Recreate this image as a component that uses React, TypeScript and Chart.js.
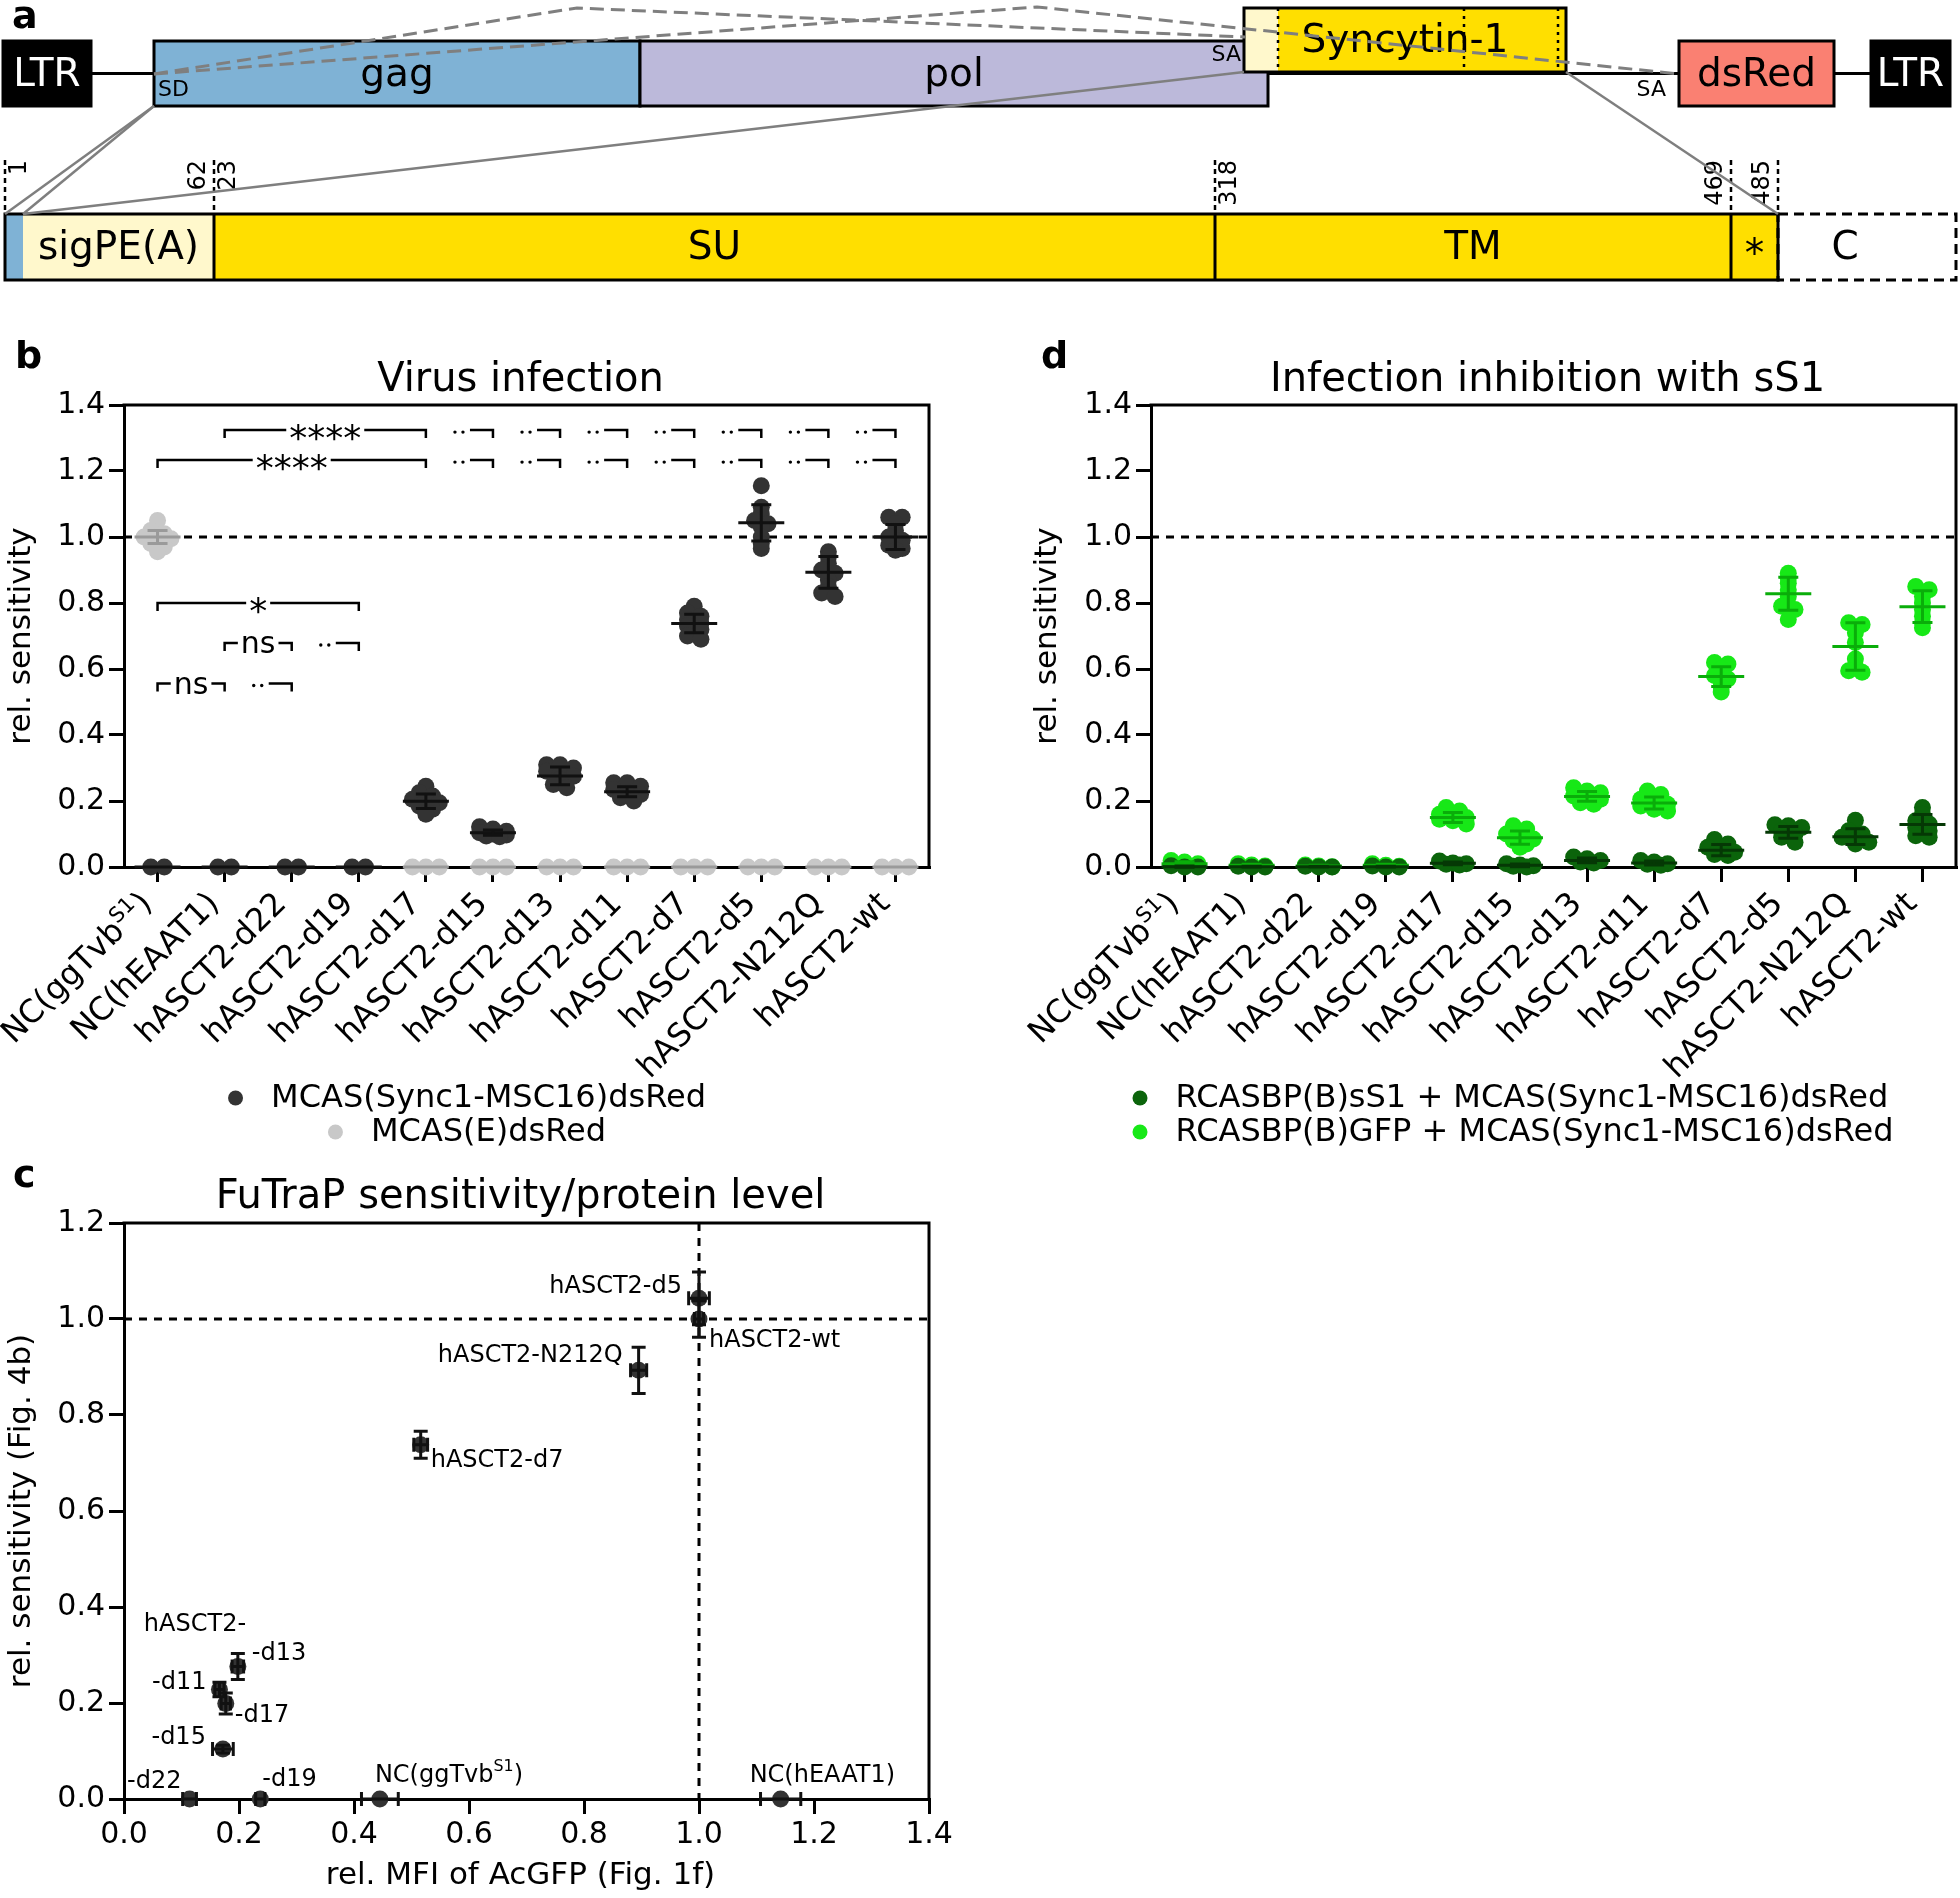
import React, { useEffect, useRef } from "react";
import { Chart, registerables } from "chart.js";

Chart.register(...registerables);

const FONT = "'DejaVu Sans', 'Liberation Sans', sans-serif";
const f = (size: number, bold = false) => `${bold ? "bold " : ""}${size}px ${FONT}`;
Chart.defaults.font.family = FONT;

/* ---------------- Panel a : construct schematic (diagram units) ---------------- */
const GENOME_LABELS = ["LTR", "gag", "pol", "dsRed", "LTR"];
const GENOME_FROM = [3, 154, 640, 1679, 1871];
const GENOME_TO = [91, 640, 1268, 1834, 1950];
const SYNCYTIN_LABEL = "Syncytin-1";
const SYNCYTIN_SPAN = [1244, 1566];
const SYNCYTIN_MARKS = [1278, 1464, 1558];
const SD_AT = 154;
const SA_AT = [1245, 1679];
const PROTEIN_LABELS = ["", "sigPE(A)", "SU", "TM", "*", "C"];
const PROTEIN_BOUNDS = [5, 23, 214, 1215, 1731, 1778, 1956];
const AA_LABELS = ["1", "62", "23", "318", "469", "485"];
const AA_AT = [5, 214, 214, 1215, 1731, 1778];
const SPLICE_PATHS = [
  [[154, 74], [577, 8], [1245, 37]],
  [[154, 74], [1037, 7], [1679, 74]],
];
const ZOOM_LINES = [
  [[154, 106], [5, 214]],
  [[154, 106], [23, 214]],
  [[1244, 72], [23, 214]],
  [[1566, 72], [1778, 214]],
];

/* ---------------- Panels b / d : categories & values ---------------- */
const CATEGORIES = [
  "NC(ggTvb^{S1})", "NC(hEAAT1)", "hASCT2-d22", "hASCT2-d19", "hASCT2-d17", "hASCT2-d15",
  "hASCT2-d13", "hASCT2-d11", "hASCT2-d7", "hASCT2-d5", "hASCT2-N212Q", "hASCT2-wt",
];
const SENS_TICKS = [0, 0.2, 0.4, 0.6, 0.8, 1.0, 1.2, 1.4];

const B_SYNC_REPS = [
  [0, 0], [0, 0], [0, 0], [0, 0],
  [0.245, 0.225, 0.215, 0.205, 0.2, 0.195, 0.185, 0.175, 0.16],
  [0.122, 0.115, 0.108, 0.104, 0.1, 0.097, 0.094, 0.092],
  [0.31, 0.31, 0.3, 0.29, 0.28, 0.275, 0.265, 0.25, 0.24],
  [0.255, 0.255, 0.245, 0.235, 0.225, 0.22, 0.21, 0.2],
  [0.79, 0.77, 0.76, 0.75, 0.74, 0.73, 0.72, 0.7, 0.69],
  [1.155, 1.09, 1.07, 1.05, 1.04, 1.03, 1.0, 0.98, 0.965],
  [0.955, 0.94, 0.92, 0.9, 0.89, 0.87, 0.85, 0.83, 0.82],
  [1.06, 1.06, 1.04, 1.02, 1.0, 0.99, 0.975, 0.965, 0.96],
];
const B_SYNC_MEAN = [0, 0, 0, 0, 0.199, 0.104, 0.276, 0.228, 0.738, 1.043, 0.893, 1.0];
const B_SYNC_SD = [0, 0, 0, 0, 0.022, 0.008, 0.027, 0.015, 0.028, 0.055, 0.048, 0.038];

const B_E_REPS = [
  [1.05, 1.02, 1.01, 1.0, 1.0, 0.995, 0.98, 0.97, 0.955], [], [], [],
  [0, 0, 0], [0, 0, 0], [0, 0, 0], [0, 0, 0], [0, 0, 0], [0, 0, 0], [0, 0, 0], [0, 0, 0],
];
const B_E_MEAN = [1.0, null, null, null, 0, 0, 0, 0, 0, 0, 0, 0];
const B_E_SD = [0.02, null, null, null, 0, 0, 0, 0, 0, 0, 0, 0];

const SIG_BRACKETS = [
  { from: 1, to: 4, y: 1.324, label: "****" },
  { from: 0, to: 4, y: 1.233, label: "****" },
  { from: 0, to: 3, y: 0.8, label: "*" },
  { from: 1, to: 2, y: 0.679, label: "ns" },
  { from: 0, to: 1, y: 0.556, label: "ns" },
];
const SIG_STUBS = [
  { y: 1.324, at: [5, 6, 7, 8, 9, 10, 11] },
  { y: 1.233, at: [5, 6, 7, 8, 9, 10, 11] },
  { y: 0.679, at: [3] },
  { y: 0.556, at: [2] },
];

const D_SS1_REPS = [
  [0.004, 0.0, 0.0], [0.002, 0.0, 0.0], [0.002, 0.0, 0.0], [0.003, 0.0, 0.0],
  [0.018, 0.012, 0.01, 0.008, 0.006],
  [0.01, 0.006, 0.004, 0.002, 0.0],
  [0.03, 0.025, 0.02, 0.015, 0.012],
  [0.02, 0.015, 0.01, 0.008, 0.005],
  [0.083, 0.07, 0.06, 0.05, 0.045, 0.038, 0.035],
  [0.128, 0.125, 0.12, 0.11, 0.1, 0.09, 0.075],
  [0.142, 0.11, 0.1, 0.09, 0.08, 0.075, 0.07],
  [0.18, 0.16, 0.14, 0.13, 0.12, 0.11, 0.095, 0.09],
];
const D_SS1_MEAN = [0.001, 0.001, 0.001, 0.001, 0.011, 0.005, 0.02, 0.012, 0.051, 0.105, 0.092, 0.129];
const D_SS1_SD = [0.002, 0.001, 0.001, 0.001, 0.004, 0.004, 0.007, 0.006, 0.017, 0.018, 0.024, 0.03];

const D_GFP_REPS = [
  [0.02, 0.015, 0.01, 0.005], [0.01, 0.006, 0.003], [0.006, 0.003, 0.001], [0.01, 0.005, 0.002],
  [0.18, 0.17, 0.16, 0.155, 0.15, 0.145, 0.14, 0.13],
  [0.125, 0.115, 0.1, 0.09, 0.085, 0.08, 0.07, 0.06],
  [0.24, 0.23, 0.225, 0.215, 0.21, 0.205, 0.195, 0.19],
  [0.23, 0.22, 0.205, 0.195, 0.19, 0.185, 0.175, 0.17],
  [0.62, 0.615, 0.6, 0.58, 0.57, 0.56, 0.545, 0.53],
  [0.89, 0.875, 0.86, 0.84, 0.82, 0.79, 0.78, 0.75],
  [0.74, 0.735, 0.71, 0.68, 0.63, 0.61, 0.595, 0.59],
  [0.85, 0.84, 0.82, 0.8, 0.78, 0.76, 0.74, 0.725],
];
const D_GFP_MEAN = [0.01, 0.005, 0.003, 0.005, 0.15, 0.089, 0.214, 0.194, 0.577, 0.828, 0.668, 0.789];
const D_GFP_SD = [0.006, 0.003, 0.002, 0.003, 0.015, 0.02, 0.015, 0.018, 0.03, 0.05, 0.072, 0.048];

/* ---------------- Panel c : sensitivity vs protein level ---------------- */
const MFI_TICKS = [0, 0.2, 0.4, 0.6, 0.8, 1.0, 1.2, 1.4];
const C_SENS_TICKS = [0, 0.2, 0.4, 0.6, 0.8, 1.0, 1.2];
const C_MFI = [0.445, 1.142, 0.114, 0.237, 0.177, 0.172, 0.198, 0.166, 0.516, 1.0, 0.895, 1.0];
const C_MFI_SD = [0.032, 0.035, 0.012, 0.008, 0.008, 0.018, 0.01, 0.008, 0.012, 0.018, 0.014, 0.008];
const C_LABELS = [
  "NC(ggTvb^{S1})", "NC(hEAAT1)", "-d22", "-d19", "-d17", "-d15",
  "-d13", "-d11", "hASCT2-d7", "hASCT2-d5", "hASCT2-N212Q", "hASCT2-wt",
];
const C_GROUP_LABEL = "hASCT2-";

/* label placement (pixel offsets from the point) */
const C_LABEL_POS: [number, number, string][] = [
  [-5, -23, "left"], [-31, -23, "left"], [-8, -17, "right"], [2, -19, "left"],
  [9, 12, "left"], [-17, -11, "right"], [14, -13, "left"], [-13, -7, "right"],
  [10, 16, "left"], [-17, -12, "right"], [-16, -15, "right"], [10, 22, "left"],
];

/* ---------------- helpers ---------------- */
function parseRich(s: string) {
  const parts: { t: string; sup: boolean }[] = [];
  const re = /\^\{([^}]*)\}/g;
  let last = 0;
  let m: RegExpExecArray | null;
  while ((m = re.exec(s))) {
    if (m.index > last) parts.push({ t: s.slice(last, m.index), sup: false });
    parts.push({ t: m[1], sup: true });
    last = m.index + m[0].length;
  }
  if (last < s.length) parts.push({ t: s.slice(last), sup: false });
  return parts;
}

function drawRich(ctx: any, s: string, x: number, y: number, align: string, size: number) {
  const parts = parseRich(s);
  const widths = parts.map((p) => {
    ctx.font = f(p.sup ? size * 0.66 : size);
    return ctx.measureText(p.t).width;
  });
  const total = widths.reduce((a, b) => a + b, 0);
  let cx = align === "right" ? x - total : align === "center" ? x - total / 2 : x;
  ctx.textAlign = "left";
  parts.forEach((p, i) => {
    ctx.font = f(p.sup ? size * 0.66 : size);
    ctx.fillText(p.t, cx, p.sup ? y - size * 0.38 : y);
    cx += widths[i];
  });
}

function swarmOffsets(values: number[], bin = 0.015, step = 0.2, maxRow = 3): number[] {
  const order = values.map((_, i) => i).sort((a, b) => values[b] - values[a]);
  const out = new Array(values.length).fill(0);
  let row: number[] = [];
  const flush = () => {
    row.forEach((k, j) => {
      out[k] = (j - (row.length - 1) / 2) * step;
    });
    row = [];
  };
  for (const k of order) {
    if (row.length && (row.length >= maxRow || values[row[0]] - values[k] > bin)) flush();
    row.push(k);
  }
  flush();
  return out;
}

const DOT_R = 8.5;
const axisGrid = { display: true, drawOnChartArea: false, drawTicks: true, tickLength: 15, lineWidth: 3, color: "#000" };
const axisBorder = { display: true, width: 3, color: "#000" };
const baseOptions = {
  animation: false,
  responsive: false,
  devicePixelRatio: 1,
  events: [],
  plugins: { legend: { display: false }, tooltip: { enabled: false }, title: { display: false } },
};

function drawFrame(ctx: any, a: any) {
  ctx.save();
  ctx.strokeStyle = "#000";
  ctx.lineWidth = 3;
  ctx.beginPath();
  ctx.moveTo(a.left - 1.5, a.top);
  ctx.lineTo(a.right, a.top);
  ctx.lineTo(a.right, a.bottom + 1.5);
  ctx.stroke();
  ctx.restore();
}

function drawYTitle(ctx: any, text: string, x: number, yc: number, size: number) {
  ctx.save();
  ctx.translate(x, yc);
  ctx.rotate(-Math.PI / 2);
  ctx.fillStyle = "#000";
  ctx.font = f(size);
  ctx.textAlign = "center";
  ctx.textBaseline = "alphabetic";
  ctx.fillText(text, 0, 0);
  ctx.restore();
}

/* ---------------- Panel a chart ---------------- */
const GENOME_COLORS = ["#000000", "#7fb2d5", "#bcb9da", "#fa8072", "#000000"];
const PROTEIN_COLORS = ["#7fb2d5", "#fff8cc", "#ffdf00", "#ffdf00", "#ffdf00", "#ffffff"];
const AA_SIDE = [1, -1, 1, 1, -1, -1];
const GENOME_ROW = [41, 106];
const SYN_ROW = [8, 72];
const PROT_ROW = [214, 280];
const AA_TOP = 160;

const panelAPlugin = {
  id: "panelA",
  afterDraw(chart: any) {
    const ctx = chart.ctx;
    const X = (v: number) => chart.scales.x.getPixelForValue(v);
    const Y = (v: number) => chart.scales.y.getPixelForValue(v);
    ctx.save();
    ctx.fillStyle = "#000";
    ctx.font = f(38, true);
    ctx.textAlign = "left";
    ctx.textBaseline = "alphabetic";
    ctx.fillText("a", 12, 28);

    const gy0 = Y(GENOME_ROW[0]);
    const gy1 = Y(GENOME_ROW[1]);
    const mid = (gy0 + gy1) / 2;
    ctx.strokeStyle = "#000";
    ctx.lineWidth = 3;
    ctx.beginPath();
    ctx.moveTo(X(GENOME_TO[0]), mid);
    ctx.lineTo(X(GENOME_FROM[GENOME_FROM.length - 1]), mid);
    ctx.stroke();

    GENOME_LABELS.forEach((lab, i) => {
      const x0 = X(GENOME_FROM[i]);
      const x1 = X(GENOME_TO[i]);
      ctx.fillStyle = GENOME_COLORS[i];
      ctx.fillRect(x0, gy0, x1 - x0, gy1 - gy0);
      ctx.strokeStyle = "#000";
      ctx.lineWidth = 3;
      ctx.strokeRect(x0, gy0, x1 - x0, gy1 - gy0);
      ctx.fillStyle = lab === "LTR" ? "#fff" : "#000";
      ctx.font = f(39);
      ctx.textAlign = "center";
      ctx.textBaseline = "middle";
      ctx.fillText(lab, (x0 + x1) / 2, mid + 2);
    });

    // Syncytin-1 box
    const sx0 = X(SYNCYTIN_SPAN[0]);
    const sx1 = X(SYNCYTIN_SPAN[1]);
    const sm = X(SYNCYTIN_MARKS[0]);
    const sy0 = Y(SYN_ROW[0]);
    const sy1 = Y(SYN_ROW[1]);
    ctx.fillStyle = "#fff8cc";
    ctx.fillRect(sx0, sy0, sm - sx0, sy1 - sy0);
    ctx.fillStyle = "#ffdf00";
    ctx.fillRect(sm, sy0, sx1 - sm, sy1 - sy0);
    ctx.strokeStyle = "#000";
    ctx.lineWidth = 3;
    ctx.strokeRect(sx0, sy0, sx1 - sx0, sy1 - sy0);
    ctx.setLineDash([3, 5]);
    ctx.lineWidth = 2.5;
    SYNCYTIN_MARKS.forEach((m) => {
      ctx.beginPath();
      ctx.moveTo(X(m), sy0);
      ctx.lineTo(X(m), sy1);
      ctx.stroke();
    });
    ctx.setLineDash([]);
    ctx.fillStyle = "#000";
    ctx.font = f(39);
    ctx.textAlign = "center";
    ctx.textBaseline = "middle";
    ctx.fillText(SYNCYTIN_LABEL, (sx0 + sx1) / 2, (sy0 + sy1) / 2 + 2);

    // splice site labels
    ctx.font = f(22);
    ctx.textAlign = "left";
    ctx.fillText("SD", X(SD_AT) + 4, Y(90));
    ctx.textAlign = "right";
    ctx.fillText("SA", X(SA_AT[0]) - 4, Y(55));
    ctx.fillText("SA", X(SA_AT[1]) - 13, Y(90));

    // protein bar
    const py0 = Y(PROT_ROW[0]);
    const py1 = Y(PROT_ROW[1]);
    for (let i = 0; i < PROTEIN_LABELS.length; i++) {
      const x0 = X(PROTEIN_BOUNDS[i]);
      const x1 = X(PROTEIN_BOUNDS[i + 1]);
      ctx.fillStyle = PROTEIN_COLORS[i];
      ctx.fillRect(x0, py0, x1 - x0, py1 - py0);
    }
    const last = PROTEIN_BOUNDS.length - 2;
    ctx.strokeStyle = "#000";
    ctx.lineWidth = 3;
    ctx.strokeRect(X(PROTEIN_BOUNDS[0]), py0, X(PROTEIN_BOUNDS[last]) - X(PROTEIN_BOUNDS[0]), py1 - py0);
    for (let i = 2; i < last; i++) {
      ctx.beginPath();
      ctx.moveTo(X(PROTEIN_BOUNDS[i]), py0);
      ctx.lineTo(X(PROTEIN_BOUNDS[i]), py1);
      ctx.stroke();
    }
    ctx.setLineDash([10, 6]);
    ctx.strokeRect(X(PROTEIN_BOUNDS[last]), py0, X(PROTEIN_BOUNDS[last + 1]) - X(PROTEIN_BOUNDS[last]), py1 - py0);
    ctx.setLineDash([]);
    ctx.fillStyle = "#000";
    ctx.font = f(39);
    ctx.textAlign = "center";
    ctx.textBaseline = "middle";
    PROTEIN_LABELS.forEach((lab, i) => {
      if (!lab) return;
      const cx = (X(PROTEIN_BOUNDS[i]) + X(PROTEIN_BOUNDS[i + 1])) / 2;
      ctx.fillText(lab, lab === "C" ? cx - 22 : cx, (py0 + py1) / 2 + (lab === "*" ? 9 : 2));
    });

    // amino-acid position markers
    ctx.lineWidth = 2.5;
    ctx.setLineDash([5, 4]);
    Array.from(new Set(AA_AT)).forEach((p) => {
      ctx.beginPath();
      ctx.moveTo(X(p), Y(AA_TOP));
      ctx.lineTo(X(p), py0);
      ctx.stroke();
    });
    ctx.setLineDash([]);
    ctx.font = f(24);
    AA_LABELS.forEach((lab, i) => {
      ctx.save();
      ctx.translate(X(AA_AT[i]) + AA_SIDE[i] * 3, Y(AA_TOP));
      ctx.rotate(-Math.PI / 2);
      ctx.textAlign = "right";
      ctx.textBaseline = AA_SIDE[i] > 0 ? "top" : "bottom";
      ctx.fillText(lab, 0, 0);
      ctx.restore();
    });

    // splice paths
    ctx.strokeStyle = "#7f7f7f";
    ctx.lineWidth = 3;
    ctx.setLineDash([14, 7]);
    SPLICE_PATHS.forEach((path) => {
      ctx.beginPath();
      path.forEach(([x, y], k) => (k ? ctx.lineTo(X(x), Y(y)) : ctx.moveTo(X(x), Y(y))));
      ctx.stroke();
    });
    ctx.setLineDash([]);
    ctx.lineWidth = 2.5;
    ZOOM_LINES.forEach((path) => {
      ctx.beginPath();
      path.forEach(([x, y], k) => (k ? ctx.lineTo(X(x), Y(y)) : ctx.moveTo(X(x), Y(y))));
      ctx.stroke();
    });
    ctx.restore();
  },
};

const panelAConfig = () => ({
  type: "scatter",
  data: { datasets: [{ data: PROTEIN_BOUNDS.map((b) => ({ x: b, y: PROT_ROW[0] })), pointRadius: 0 }] },
  options: {
    ...baseOptions,
    layout: { padding: 0, autoPadding: false },
    scales: {
      x: { type: "linear", display: false, min: 0, max: 1960 },
      y: { type: "linear", display: false, min: 0, max: 300, reverse: true },
    },
  },
  plugins: [panelAPlugin],
});

/* ---------------- Panels b / d charts ---------------- */
type Series = { name: string; reps: number[][]; mean: (number | null)[]; sd: (number | null)[]; dot: string; bar: string };

function stripPlugin(spec: any) {
  return {
    id: "strip",
    beforeDatasetsDraw(chart: any) {
      const { ctx, chartArea: a } = chart;
      drawFrame(ctx, a);
      const y1 = chart.scales.y.getPixelForValue(1);
      ctx.save();
      ctx.strokeStyle = "#000";
      ctx.lineWidth = 3;
      ctx.setLineDash([8, 7]);
      ctx.beginPath();
      ctx.moveTo(a.left, y1);
      ctx.lineTo(a.right, y1);
      ctx.stroke();
      ctx.restore();
    },
    afterDatasetsDraw(chart: any) {
      const ctx = chart.ctx;
      const X = (v: number) => chart.scales.x.getPixelForValue(v);
      const Y = (v: number) => chart.scales.y.getPixelForValue(v);
      ctx.save();
      ctx.lineWidth = 3;
      (spec.series as Series[]).slice().reverse().forEach((s) => {
        ctx.strokeStyle = s.bar;
        s.mean.forEach((m, i) => {
          if (m == null) return;
          const x = X(i);
          const y = Y(m);
          ctx.beginPath();
          ctx.moveTo(x - 23, y);
          ctx.lineTo(x + 23, y);
          ctx.stroke();
          const sd = s.sd[i] || 0;
          if (sd > 0) {
            const yt = Y(m + sd);
            const yb = Y(m - sd);
            ctx.beginPath();
            ctx.moveTo(x, yt);
            ctx.lineTo(x, yb);
            ctx.moveTo(x - 10, yt);
            ctx.lineTo(x + 10, yt);
            ctx.moveTo(x - 10, yb);
            ctx.lineTo(x + 10, yb);
            ctx.stroke();
          }
        });
      });
      ctx.restore();
    },
    afterDraw(chart: any) {
      const { ctx, chartArea: a } = chart;
      const X = (v: number) => chart.scales.x.getPixelForValue(v);
      const Y = (v: number) => chart.scales.y.getPixelForValue(v);
      ctx.save();
      ctx.fillStyle = "#000";
      ctx.strokeStyle = "#000";
      // letter & title
      ctx.font = f(38, true);
      ctx.textAlign = "left";
      ctx.textBaseline = "alphabetic";
      ctx.fillText(spec.letter, spec.letterX, 48);
      ctx.font = f(40);
      ctx.textAlign = "center";
      ctx.fillText(spec.title, (a.left + a.right) / 2 - 6, 71);
      drawYTitle(ctx, "rel. sensitivity", spec.yTitleX, (a.top + a.bottom) / 2, 31);
      // rotated category labels
      ctx.textBaseline = "alphabetic";
      CATEGORIES.forEach((lab, i) => {
        ctx.save();
        ctx.translate(X(i) - 4, a.bottom + 15 + 23);
        ctx.rotate(-Math.PI / 4);
        drawRich(ctx, lab, 0, 0, "right", 32);
        ctx.restore();
      });
      // legend
      ctx.textBaseline = "middle";
      (spec.series as Series[]).forEach((s, r) => {
        const y = 778 + r * 34;
        ctx.font = f(32);
        const tw = ctx.measureText(s.name).width;
        const dx = spec.legendCenter != null ? spec.legendCenter - (15 + 28 + tw) / 2 + 7.5 : spec.legendX;
        ctx.fillStyle = s.dot;
        ctx.beginPath();
        ctx.arc(dx, y, 7.5, 0, Math.PI * 2);
        ctx.fill();
        ctx.fillStyle = "#000";
        ctx.textAlign = "left";
        ctx.fillText(s.name, dx + 35.5, y + 1);
      });
      // significance annotations
      ctx.lineWidth = 2.5;
      (spec.brackets || []).forEach((b: any) => {
        const x1 = X(b.from);
        const x2 = X(b.to);
        const y = Y(b.y);
        const star = b.label.includes("*");
        const size = star ? 36 : 30;
        ctx.font = f(size);
        const tw = ctx.measureText(b.label).width;
        const mx = (x1 + x2) / 2;
        ctx.beginPath();
        ctx.moveTo(x1, y + 8);
        ctx.lineTo(x1, y);
        ctx.lineTo(mx - tw / 2 - 3, y);
        ctx.moveTo(mx + tw / 2 + 3, y);
        ctx.lineTo(x2, y);
        ctx.lineTo(x2, y + 8);
        ctx.stroke();
        ctx.textAlign = "center";
        ctx.textBaseline = "alphabetic";
        ctx.fillText(b.label, mx, star ? y + 20 : y + 10);
      });
      (spec.stubs || []).forEach((st: any) => {
        const y = Y(st.y);
        st.at.forEach((k: number) => {
          const x = X(k);
          ctx.beginPath();
          ctx.moveTo(x - 23, y);
          ctx.lineTo(x, y);
          ctx.lineTo(x, y + 8);
          ctx.stroke();
          [38, 30].forEach((d) => {
            ctx.beginPath();
            ctx.arc(x - d, y + 2, 1.7, 0, Math.PI * 2);
            ctx.fill();
          });
        });
      });
      ctx.restore();
    },
  };
}

function stripConfig(spec: any) {
  const datasets = (spec.series as Series[]).map((s) => ({
    label: s.name,
    data: s.reps.flatMap((vals, i) => {
      const off = swarmOffsets(vals);
      return vals.map((v, j) => ({ x: i + off[j], y: v }));
    }),
    backgroundColor: s.dot,
    borderColor: s.dot,
    pointBackgroundColor: s.dot,
    pointRadius: DOT_R,
    pointHoverRadius: DOT_R,
    pointBorderWidth: 0,
    borderWidth: 0,
    showLine: false,
    clip: false,
  }));
  return {
    type: "scatter",
    data: { datasets },
    options: {
      ...baseOptions,
      layout: { padding: { left: 0, top: 85, right: spec.padRight, bottom: 0 }, autoPadding: false },
      scales: {
        x: {
          type: "linear",
          min: -0.5,
          max: CATEGORIES.length - 0.5,
          afterBuildTicks: (s: any) => {
            s.ticks = CATEGORIES.map((_, i) => ({ value: i }));
          },
          ticks: { display: false },
          grid: axisGrid,
          border: axisBorder,
          afterFit: (s: any) => {
            s.height = 283;
            s.paddingLeft = 0;
            s.paddingRight = 0;
          },
        },
        y: {
          type: "linear",
          min: 0,
          max: 1.4,
          afterBuildTicks: (s: any) => {
            s.ticks = SENS_TICKS.map((v) => ({ value: v }));
          },
          ticks: {
            font: { family: FONT, size: 30 },
            color: "#000",
            padding: 4,
            autoSkip: false,
            callback: (v: any) => Number(v).toFixed(1),
          },
          grid: axisGrid,
          border: axisBorder,
          afterFit: (s: any) => {
            s.width = spec.yWidth;
            s.paddingTop = 0;
            s.paddingBottom = 0;
          },
        },
      },
    },
    plugins: [stripPlugin(spec)],
  };
}

const B_SPEC = {
  letter: "b",
  letterX: 15,
  title: "Virus infection",
  yTitleX: 30,
  yWidth: 124,
  padRight: 51,
  legendCenter: 467,
  legendX: null,
  brackets: SIG_BRACKETS,
  stubs: SIG_STUBS,
  series: [
    { name: "MCAS(Sync1-MSC16)dsRed", reps: B_SYNC_REPS, mean: B_SYNC_MEAN, sd: B_SYNC_SD, dot: "#333333", bar: "#111111" },
    { name: "MCAS(E)dsRed", reps: B_E_REPS, mean: B_E_MEAN, sd: B_E_SD, dot: "#c8c8c8", bar: "#9a9a9a" },
  ],
};

const D_SPEC = {
  letter: "d",
  letterX: 61,
  title: "Infection inhibition with sS1",
  yTitleX: 76,
  yWidth: 171,
  padRight: 4,
  legendCenter: null,
  legendX: 160,
  brackets: [],
  stubs: [],
  series: [
    { name: "RCASBP(B)sS1 + MCAS(Sync1-MSC16)dsRed", reps: D_SS1_REPS, mean: D_SS1_MEAN, sd: D_SS1_SD, dot: "#0b640b", bar: "#053805" },
    { name: "RCASBP(B)GFP + MCAS(Sync1-MSC16)dsRed", reps: D_GFP_REPS, mean: D_GFP_MEAN, sd: D_GFP_SD, dot: "#17e817", bar: "#0aad0a" },
  ],
};

/* ---------------- Panel c chart ---------------- */
const panelCPlugin = {
  id: "panelC",
  beforeDatasetsDraw(chart: any) {
    const { ctx, chartArea: a } = chart;
    drawFrame(ctx, a);
    const X = (v: number) => chart.scales.x.getPixelForValue(v);
    const Y = (v: number) => chart.scales.y.getPixelForValue(v);
    ctx.save();
    ctx.strokeStyle = "#000";
    ctx.lineWidth = 3;
    ctx.setLineDash([8, 7]);
    ctx.beginPath();
    ctx.moveTo(a.left, Y(1));
    ctx.lineTo(a.right, Y(1));
    ctx.moveTo(X(1), a.top);
    ctx.lineTo(X(1), a.bottom);
    ctx.stroke();
    ctx.restore();
  },
  afterDatasetsDraw(chart: any) {
    const ctx = chart.ctx;
    const X = (v: number) => chart.scales.x.getPixelForValue(v);
    const Y = (v: number) => chart.scales.y.getPixelForValue(v);
    ctx.save();
    ctx.strokeStyle = "#111";
    ctx.lineWidth = 3;
    C_MFI.forEach((mx, i) => {
      const my = B_SYNC_MEAN[i];
      const x = X(mx);
      const y = Y(my);
      const ex = C_MFI_SD[i];
      const ey = B_SYNC_SD[i];
      ctx.beginPath();
      if (ex > 0) {
        const xl = X(mx - ex);
        const xr = X(mx + ex);
        ctx.moveTo(xl, y);
        ctx.lineTo(xr, y);
        ctx.moveTo(xl, y - 7);
        ctx.lineTo(xl, y + 7);
        ctx.moveTo(xr, y - 7);
        ctx.lineTo(xr, y + 7);
      }
      if (ey > 0) {
        const yt = Y(my + ey);
        const yb = Y(my - ey);
        ctx.moveTo(x, yt);
        ctx.lineTo(x, yb);
        ctx.moveTo(x - 7, yt);
        ctx.lineTo(x + 7, yt);
        ctx.moveTo(x - 7, yb);
        ctx.lineTo(x + 7, yb);
      }
      ctx.stroke();
    });
    ctx.restore();
  },
  afterDraw(chart: any) {
    const { ctx, chartArea: a } = chart;
    const X = (v: number) => chart.scales.x.getPixelForValue(v);
    const Y = (v: number) => chart.scales.y.getPixelForValue(v);
    ctx.save();
    ctx.fillStyle = "#000";
    ctx.font = f(38, true);
    ctx.textAlign = "left";
    ctx.textBaseline = "alphabetic";
    ctx.fillText("c", 13, 37);
    ctx.font = f(40);
    ctx.textAlign = "center";
    ctx.fillText("FuTraP sensitivity/protein level", (a.left + a.right) / 2 - 6, 58);
    ctx.font = f(31);
    ctx.fillText("rel. MFI of AcGFP (Fig. 1f)", (a.left + a.right) / 2 - 6, 734);
    drawYTitle(ctx, "rel. sensitivity (Fig. 4b)", 30, (a.top + a.bottom) / 2, 31);
    ctx.textBaseline = "middle";
    C_LABELS.forEach((lab, i) => {
      const [dx, dy, al] = C_LABEL_POS[i];
      drawRich(ctx, lab, X(C_MFI[i]) + dx, Y(B_SYNC_MEAN[i]) + dy, al, 24);
    });
    drawRich(ctx, C_GROUP_LABEL, X(C_MFI[6]) - 94, Y(B_SYNC_MEAN[6]) - 42, "left", 24);
    ctx.restore();
  },
};

const panelCConfig = () => ({
  type: "scatter",
  data: {
    datasets: [
      {
        data: C_MFI.map((x, i) => ({ x, y: B_SYNC_MEAN[i] })),
        backgroundColor: "#333333",
        pointBackgroundColor: "#333333",
        pointRadius: DOT_R,
        pointHoverRadius: DOT_R,
        pointBorderWidth: 0,
        borderWidth: 0,
        showLine: false,
        clip: false,
      },
    ],
  },
  options: {
    ...baseOptions,
    layout: { padding: { left: 0, top: 73, right: 51, bottom: 0 }, autoPadding: false },
    scales: {
      x: {
        type: "linear",
        min: 0,
        max: 1.4,
        afterBuildTicks: (s: any) => {
          s.ticks = MFI_TICKS.map((v) => ({ value: v }));
        },
        ticks: { font: { family: FONT, size: 30 }, color: "#000", padding: 3, autoSkip: false, maxRotation: 0, callback: (v: any) => Number(v).toFixed(1) },
        grid: axisGrid,
        border: axisBorder,
        afterFit: (s: any) => {
          s.height = 99;
          s.paddingLeft = 0;
          s.paddingRight = 0;
        },
      },
      y: {
        type: "linear",
        min: 0,
        max: 1.2,
        afterBuildTicks: (s: any) => {
          s.ticks = C_SENS_TICKS.map((v) => ({ value: v }));
        },
        ticks: { font: { family: FONT, size: 30 }, color: "#000", padding: 4, autoSkip: false, callback: (v: any) => Number(v).toFixed(1) },
        grid: axisGrid,
        border: axisBorder,
        afterFit: (s: any) => {
          s.width = 124;
          s.paddingTop = 0;
          s.paddingBottom = 0;
        },
      },
    },
  },
  plugins: [panelCPlugin],
});

/* ---------------- React ---------------- */
function ChartCanvas(props: { left: number; top: number; width: number; height: number; make: () => any }) {
  const ref = useRef<HTMLCanvasElement | null>(null);
  useEffect(() => {
    const chart = new Chart(ref.current as HTMLCanvasElement, props.make());
    return () => chart.destroy();
  }, []);
  return (
    <canvas
      ref={ref}
      width={props.width}
      height={props.height}
      style={{ position: "absolute", left: props.left, top: props.top, width: props.width, height: props.height, display: "block" }}
    />
  );
}

export default function App() {
  return (
    <div style={{ position: "absolute", left: 0, top: 0, width: 1960, height: 1898, background: "#ffffff", overflow: "hidden" }}>
      <ChartCanvas left={0} top={0} width={1960} height={300} make={panelAConfig} />
      <ChartCanvas left={0} top={320} width={980} height={830} make={() => stripConfig(B_SPEC)} />
      <ChartCanvas left={980} top={320} width={980} height={830} make={() => stripConfig(D_SPEC)} />
      <ChartCanvas left={0} top={1150} width={980} height={748} make={panelCConfig} />
    </div>
  );
}
